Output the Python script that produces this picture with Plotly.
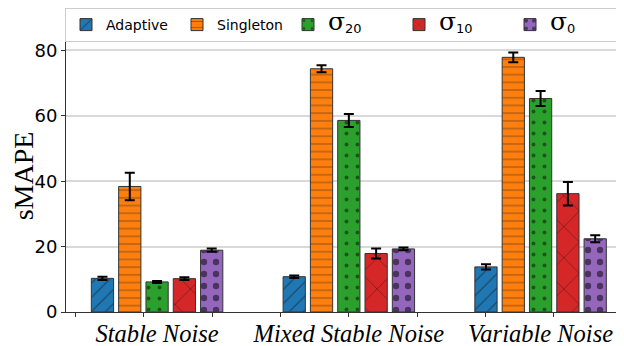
import plotly.graph_objects as go

categories = ["Stable Noise", "Mixed Stable Noise", "Variable Noise"]
adaptive = [10.3, 10.8, 13.8]
adaptive_err = [0.5, 0.4, 0.8]
singleton = [38.4, 74.4, 77.9]
singleton_err = [4.2, 1.1, 1.5]
sigma20 = [9.2, 58.6, 65.3]
sigma20_err = [0.3, 2.0, 2.3]
sigma10 = [10.2, 17.9, 36.2]
sigma10_err = [0.4, 1.5, 3.6]
sigma0 = [18.9, 19.3, 22.4]
sigma0_err = [0.5, 0.4, 1.1]
y_ticks = [0, 20, 40, 60, 80]

colors = ["#1f77b4", "#ff7f0e", "#2ca02c", "#d62728", "#9467bd"]
patterns = [
    dict(shape="/", size=10, solidity=0.12, fgcolor="#1a1a1a"),
    dict(shape="-", size=7.7, solidity=0.15, fgcolor="#3a2a1a"),
    dict(shape=".", size=11, solidity=0.1, fgcolor="#0a0a0a"),
    dict(shape="x", size=22, solidity=0.07, fgcolor="#111111"),
    dict(shape=".", size=12, solidity=0.22, fgcolor="#000000"),
]
sig = "<span style='font-family:DejaVu Serif;font-size:25px'>σ</span><sub><span style='font-size:13px'>%s</span></sub>"
legend_labels = ["Adaptive", "Singleton", sig % "20", sig % "10", sig % "0"]
values = [adaptive, singleton, sigma20, sigma10, sigma0]
errors = [adaptive_err, singleton_err, sigma20_err, sigma10_err, sigma0_err]

x_pos = list(range(len(categories)))

fig = go.Figure()
for i in range(5):
    fig.add_trace(go.Bar(
        x=x_pos, y=values[i], name=legend_labels[i],
        marker=dict(color=colors[i], line=dict(color="#333333", width=1),
                    pattern=patterns[i]),
        error_y=dict(type="data", array=errors[i], color="black", thickness=2, width=5),
    ))

# page body adds an 8px offset; figure sized to fit the 624x346 window
fig.update_layout(
    width=616, height=338,
    margin=dict(l=58, r=0, t=32, b=33.5, autoexpand=False),
    paper_bgcolor="white", plot_bgcolor="white",
    barmode="group", bargap=0.288, bargroupgap=0.185,
    font=dict(family="DejaVu Sans", size=14, color="black"),
    showlegend=True,
    legend=dict(orientation="h", xref="container", x=57 / 616, xanchor="left",
                yref="container", y=1.0, yanchor="top",
                bordercolor="#cccccc", borderwidth=1, font=dict(size=14),
                entrywidth=66, traceorder="normal"),
    xaxis=dict(range=[-0.475, 2.435], tickmode="array", tickvals=x_pos,
               ticktext=["<i>%s</i>" % c for c in categories], ticks="",
               tickfont=dict(family="Liberation Serif", size=24.5),
               showline=True, linecolor="#333333", linewidth=1, mirror=True,
               showgrid=False, zeroline=False, automargin=False,
               minor=dict(tickmode="linear", tick0=1.0, dtick=0.3565, ticks="outside",
                          ticklen=4, tickcolor="#333333", showgrid=False)),
    yaxis=dict(range=[0, 83.2], tickmode="array", tickvals=y_ticks, ticks="outside",
               ticklen=4, tickcolor="#333333", tickfont=dict(size=18),
               showline=True, linecolor="#333333", linewidth=1, mirror=False,
               showgrid=True, gridcolor="#d9d9d9", gridwidth=1.5, zeroline=False,
               automargin=False,
               title=dict(text="sMAPE", font=dict(family="Liberation Serif", size=28),
                          standoff=6)),
)

fig.write_html("out.html")
